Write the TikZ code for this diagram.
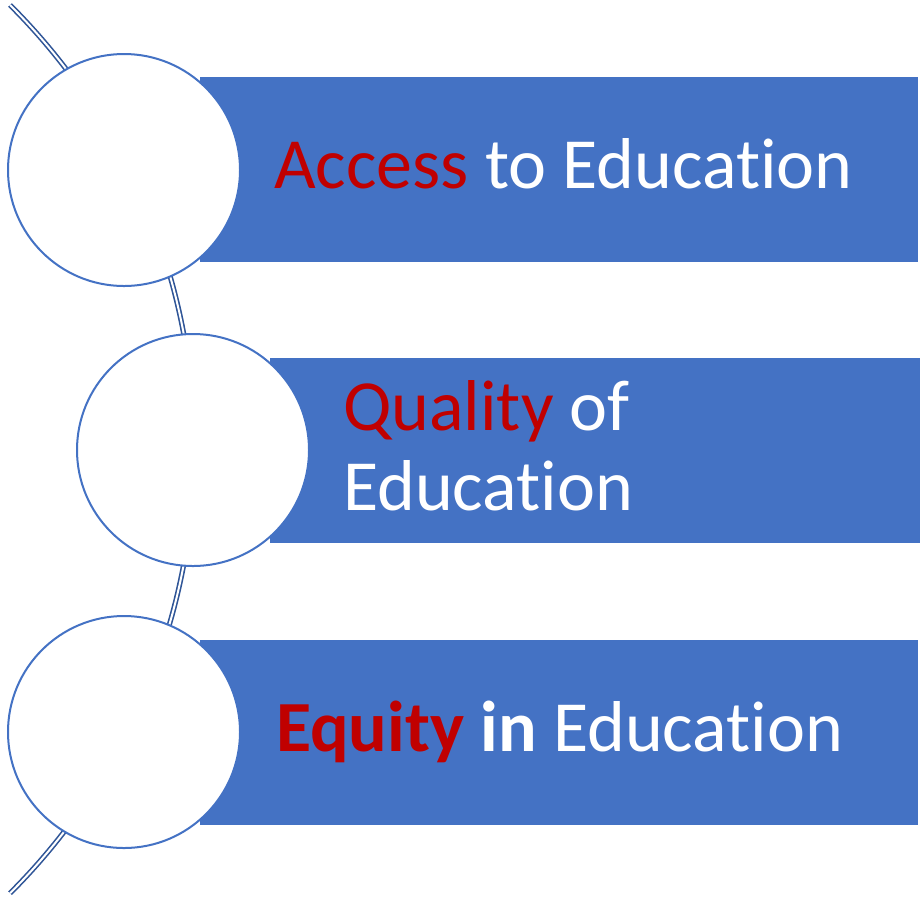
\documentclass[tikz,border=0pt]{standalone}
\usepackage{fontspec}
\setmainfont[Ligatures={NoCommon,NoContextual,NoRequired}]{Carlito}
\definecolor{barblue}{HTML}{4472C4}
\definecolor{spineblue}{HTML}{2F5597}
\definecolor{keyred}{HTML}{C00000}
\begin{document}
\begin{tikzpicture}[x=1pt, y=-1pt,
  bar/.style={fill=barblue, minimum width=718pt, minimum height=185pt, anchor=north west, inner sep=0pt},
  bubble/.style={circle, draw=barblue, line width=2pt, fill=white, minimum size=232pt, inner sep=0pt},
  spine/.style={draw=spineblue, double=white, double distance=2pt, line width=1.6pt},
  label/.style={text=white, anchor=base west, align=left, inner sep=0pt,
    font=\fontsize{72}{80}\selectfont}]
\useasboundingbox (0,0) rectangle (920,898);

\coordinate (arctop) at (10,5);
\draw[spine] (arctop) arc[start angle=45.1, end angle=-45.1, radius=627pt] coordinate (arcbot);

\node[bar] (b1) at (200,77) {};
\node[bar] (b2) at (270,358) {};
\node[bar] (b3) at (200,640) {};

\node[bubble] (c1) at (124,170) {};
\node[bubble] (c2) at (193,450) {};
\node[bubble] (c3) at (124,732) {};

\node[label] (t1) at (274,188) {\textcolor{keyred}{Access} to Education};
\node[label] (t2) at (343,510) {\textcolor{keyred}{Quality} of\\Education};
\node[label] (t3) at (276,751) {\textbf{\textcolor{keyred}{Equity} in} Education};
\end{tikzpicture}
\end{document}
